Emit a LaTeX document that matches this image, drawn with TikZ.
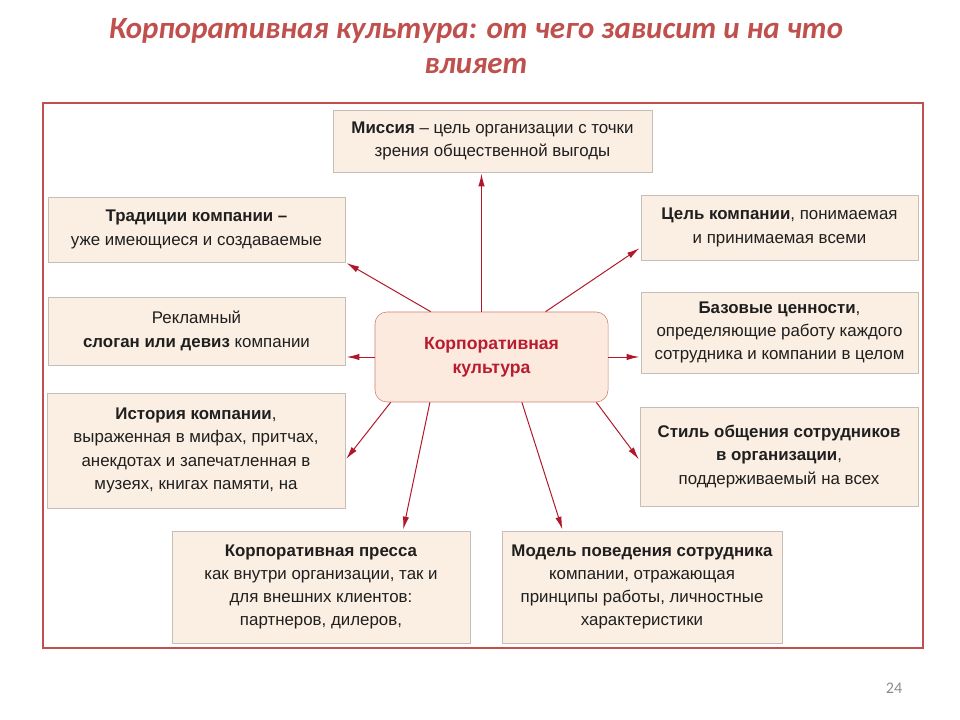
\documentclass[tikz,border=0pt]{standalone}
\usepackage{fontspec}
\setmainfont{Liberation Sans}
\newfontfamily\titlefont{Carlito}
\usepackage{tikz}
\usetikzlibrary{positioning,arrows.meta,shadows}

\definecolor{framered}{RGB}{192,80,77}
\definecolor{arrowred}{RGB}{178,22,42}
\definecolor{boxfill}{RGB}{251,239,227}
\definecolor{boxline}{RGB}{196,190,184}
\definecolor{corefill}{RGB}{253,234,222}
\definecolor{coreline}{RGB}{205,128,118}
\definecolor{coretext}{RGB}{185,28,48}

\begin{document}
\begin{tikzpicture}
    [ x = .025cm, y = -.025cm
    , > = {Latex[length=9pt,width=4.5pt]}
    , box/.style =
      { draw = boxline, fill = boxfill, inner sep = 0pt, align = center
      , text = black!88
      , font = \fontsize{12}{16.5}\selectfont
      , drop shadow = {opacity = .25, shadow xshift = .7pt, shadow yshift = -.7pt}
      }
    , size/.style 2 args =
      { minimum width = #1, minimum height = #2 }
    , core/.style =
      { draw = coreline, fill = corefill, rounded corners = .3cm
      , inner sep = 0pt, align = center, text = coretext
      , font = \fontsize{12.5}{17}\selectfont\bfseries
      , minimum width = 5.825cm, minimum height = 2.25cm
      }
    , edge/.style =
      { draw = arrowred, line width = .7pt, shorten >= 1pt }
    , frame/.style =
      { draw = framered, line width = 1.6pt }
    ]
    \useasboundingbox (0,0) rectangle (960,720);

    \node [text = framered, align = center
          , font = \titlefont\fontsize{22}{25}\selectfont\bfseries\itshape]
      (title) at (476,46) {Корпоративная культура: от чего зависит и на что\\ влияет};
    \draw [frame] (43,103) rectangle (923,648);

    \node [core] (corp) at (491.5,357) {Корпоративная\\ культура};

    \node [box,size={7.975cm}{1.55cm}] (mission) at (492.5,141)
      {\textbf{Миссия} – цель организации с точки\\ зрения общественной выгоды};
    \node [box,size={7.425cm}{1.625cm}] (trad) at (196.5,229.5)
      {\textbf{Традиции компании –}\\ уже имеющиеся и создаваемые};
    \node [box,size={7.425cm}{1.7cm}] (slogan) at (196.5,331)
      {Рекламный\\ \textbf{слоган или девиз} компании};
    \node [box,size={7.45cm}{2.875cm}] (history) at (196,450.5)
      {\textbf{История компании},\\ выраженная в мифах, притчах,\\ анекдотах и запечатленная в\\ музеях, книгах памяти, на};
    \node [box,size={6.925cm}{1.625cm}] (goal) at (779.5,227.5)
      {\textbf{Цель компании}, понимаемая\\ и принимаемая всеми};
    \node [box,size={6.925cm}{2.025cm}] (values) at (779.5,332.5)
      {\textbf{Базовые ценности},\\ определяющие работу каждого\\ сотрудника и компании в целом};
    \node [box,size={6.95cm}{2.475cm}] (manner) at (779,456.5)
      {\textbf{Стиль общения сотрудников}\\ \textbf{в организации},\\ поддерживаемый на всех};
    \node [box,size={7.45cm}{2.8cm}] (press) at (321,587)
      {\textbf{Корпоративная пресса}\\ как внутри организации, так и\\ для внешних клиентов:\\ партнеров, дилеров,};
    \node [box,size={7cm}{2.8cm}] (model) at (642,587)
      {\textbf{Модель поведения сотрудника}\\ компании, отражающая\\ принципы работы, личностные\\ характеристики};

    \node [text = black!45, font = \titlefont\fontsize{11.5}{13}\selectfont]
      (page) at (894,688) {24};

    \draw [edge,->] ([xshift=-.25cm]corp.north) -- ([xshift=-.25cm]corp.north |- mission.south);
    \draw [edge,->] ([xshift=1.4cm]corp.north west) -- (trad.south east);
    \draw [edge,->] (corp.west) -- (corp.west -| slogan.east);
    \draw [edge,->] ([xshift=.4cm]corp.south west) -- ([yshift=-.24cm]history.east);
    \draw [edge,->] ([xshift=1.38cm]corp.south west) -- ([xshift=2.05cm]press.north);
    \draw [edge,->] ([xshift=.76cm]corp.south) -- ([xshift=-1.98cm]model.north);
    \draw [edge,->] ([xshift=-.3cm]corp.south east) -- ([yshift=-.1cm]manner.west);
    \draw [edge,->] (corp.east) -- (corp.east -| values.west);
    \draw [edge,->] ([xshift=1.35cm]corp.north) -- ([yshift=.32cm]goal.south west);
  \end{tikzpicture}
\end{document}
